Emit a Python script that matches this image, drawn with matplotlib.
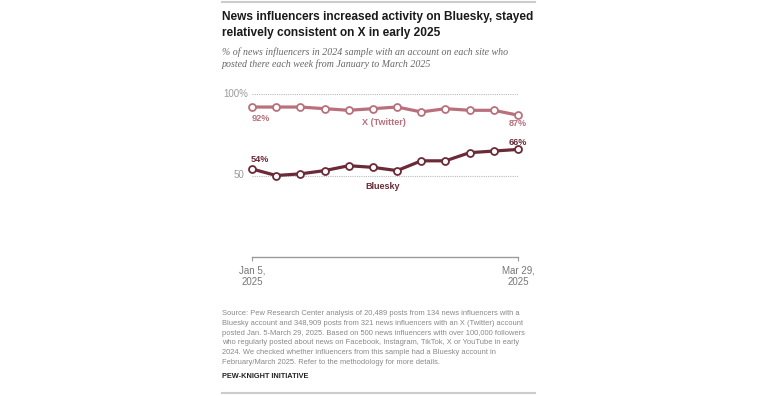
import numpy as np
import matplotlib
matplotlib.use('Agg')
import matplotlib.pyplot as plt
from matplotlib.lines import Line2D

matplotlib.rcParams['font.family'] = ['Liberation Sans', 'DejaVu Sans']

weeks = list(range(12))
x_twitter = [92, 92, 92, 91, 90, 91, 92, 89, 91, 90, 90, 87]
bluesky = [54, 50, 51, 53, 56, 55, 53, 59, 59, 64, 65, 66]
xtick_labels = ["Jan 5,\n2025", "Mar 29,\n2025"]

c_x = '#b8707c'
c_bs = '#6b2a37'
grey = '#9a9a9a'

W, H = 758, 396
fig = plt.figure(figsize=(W / 100, H / 100), dpi=100)

def fx(px):
    return px / W

def fy(py):
    return 1 - py / H

# axes placed in pixel terms: x 252..518, y 0 -> 257, 100 -> 94
ax = fig.add_axes([fx(252), fy(257), fx(518) - fx(252), fy(94) - fy(257)])
ax.set_xlim(0, 11)
ax.set_ylim(0, 100)
for s in ['top', 'right', 'left']:
    ax.spines[s].set_visible(False)
ax.spines['bottom'].set_color(grey)
ax.spines['bottom'].set_linewidth(1)
ax.set_yticks([])
ax.set_xticks([0, 11])
ax.set_xticklabels(xtick_labels, fontsize=7, color='#777777', linespacing=1.15)
ax.tick_params(axis='x', length=3, color=grey, pad=3)

for g in [50, 100]:
    ax.axhline(g, color='#bbbbbb', lw=0.8, ls=(0, (1, 1)), zorder=1)
ax.text(-0.15, 100, "100%", fontsize=7, color=grey, ha='right', va='center')
ax.text(-0.3, 50, "50", fontsize=7, color=grey, ha='right', va='center')

ax.plot(weeks, x_twitter, color=c_x, lw=2.3, marker='o', ms=5, mfc='white', mec=c_x, mew=1.3, clip_on=False, zorder=3)
ax.plot(weeks, bluesky, color=c_bs, lw=2.3, marker='o', ms=5, mfc='white', mec=c_bs, mew=1.3, clip_on=False, zorder=3)

# value labels
ax.annotate(f"{x_twitter[0]}%", (weeks[0], x_twitter[0]), xytext=(6, -8), textcoords='offset points',
            ha='center', va='center', fontsize=6.6, color=c_x, fontweight='bold')
ax.annotate(f"{x_twitter[-1]}%", (weeks[-1], x_twitter[-1]), xytext=(0, -6), textcoords='offset points',
            ha='center', va='center', fontsize=6.6, color=c_x, fontweight='bold')
ax.annotate(f"{bluesky[0]}%", (weeks[0], bluesky[0]), xytext=(6, 7), textcoords='offset points',
            ha='center', va='center', fontsize=6.6, color=c_bs, fontweight='bold')
ax.annotate(f"{bluesky[-1]}%", (weeks[-1], bluesky[-1]), xytext=(0, 5), textcoords='offset points',
            ha='center', va='center', fontsize=6.6, color=c_bs, fontweight='bold')

ax.text(5.45, 82.8, "X (Twitter)", fontsize=6.5, color=c_x, fontweight='bold', ha='center', va='center')
ax.text(5.4, 43, "Bluesky", fontsize=6.5, color=c_bs, fontweight='bold', ha='center', va='center')

# frame lines top and bottom
fig.add_artist(Line2D([fx(222), fx(535)], [fy(2), fy(2)], color='#cccccc', lw=1.5))
fig.add_artist(Line2D([fx(222), fx(535)], [fy(393), fy(393)], color='#cccccc', lw=1.5))

fig.text(fx(222), fy(25), "News influencers increased activity on Bluesky, stayed\nrelatively consistent on X in early 2025",
         fontsize=8.6, fontweight='bold', color='#1a1a1a', va='center', ha='left', linespacing=1.5)
fig.text(fx(222), fy(58), "% of news influencers in 2024 sample with an account on each site who\nposted there each week from January to March 2025",
         fontsize=7.1, style='italic', family=['Liberation Serif', 'DejaVu Serif'], color='#666666',
         va='center', ha='left', linespacing=1.25)

source = ("Source: Pew Research Center analysis of 20,489 posts from 134 news influencers with a\n"
          "Bluesky account and 348,909 posts from 321 news influencers with an X (Twitter) account\n"
          "posted Jan. 5-March 29, 2025. Based on 500 news influencers with over 100,000 followers\n"
          "who regularly posted about news on Facebook, Instagram, TikTok, X or YouTube in early\n"
          "2024. We checked whether influencers from this sample had a Bluesky account in\n"
          "February/March 2025. Refer to the methodology for more details.")
fig.text(fx(222), fy(338), source, fontsize=5.45, color='#888888', va='center', ha='left', linespacing=1.55)
fig.text(fx(222), fy(377), "PEW-KNIGHT INITIATIVE", fontsize=5.3, fontweight='bold', color='#222222',
         va='center', ha='left')

fig.savefig('out.png', dpi=100)
